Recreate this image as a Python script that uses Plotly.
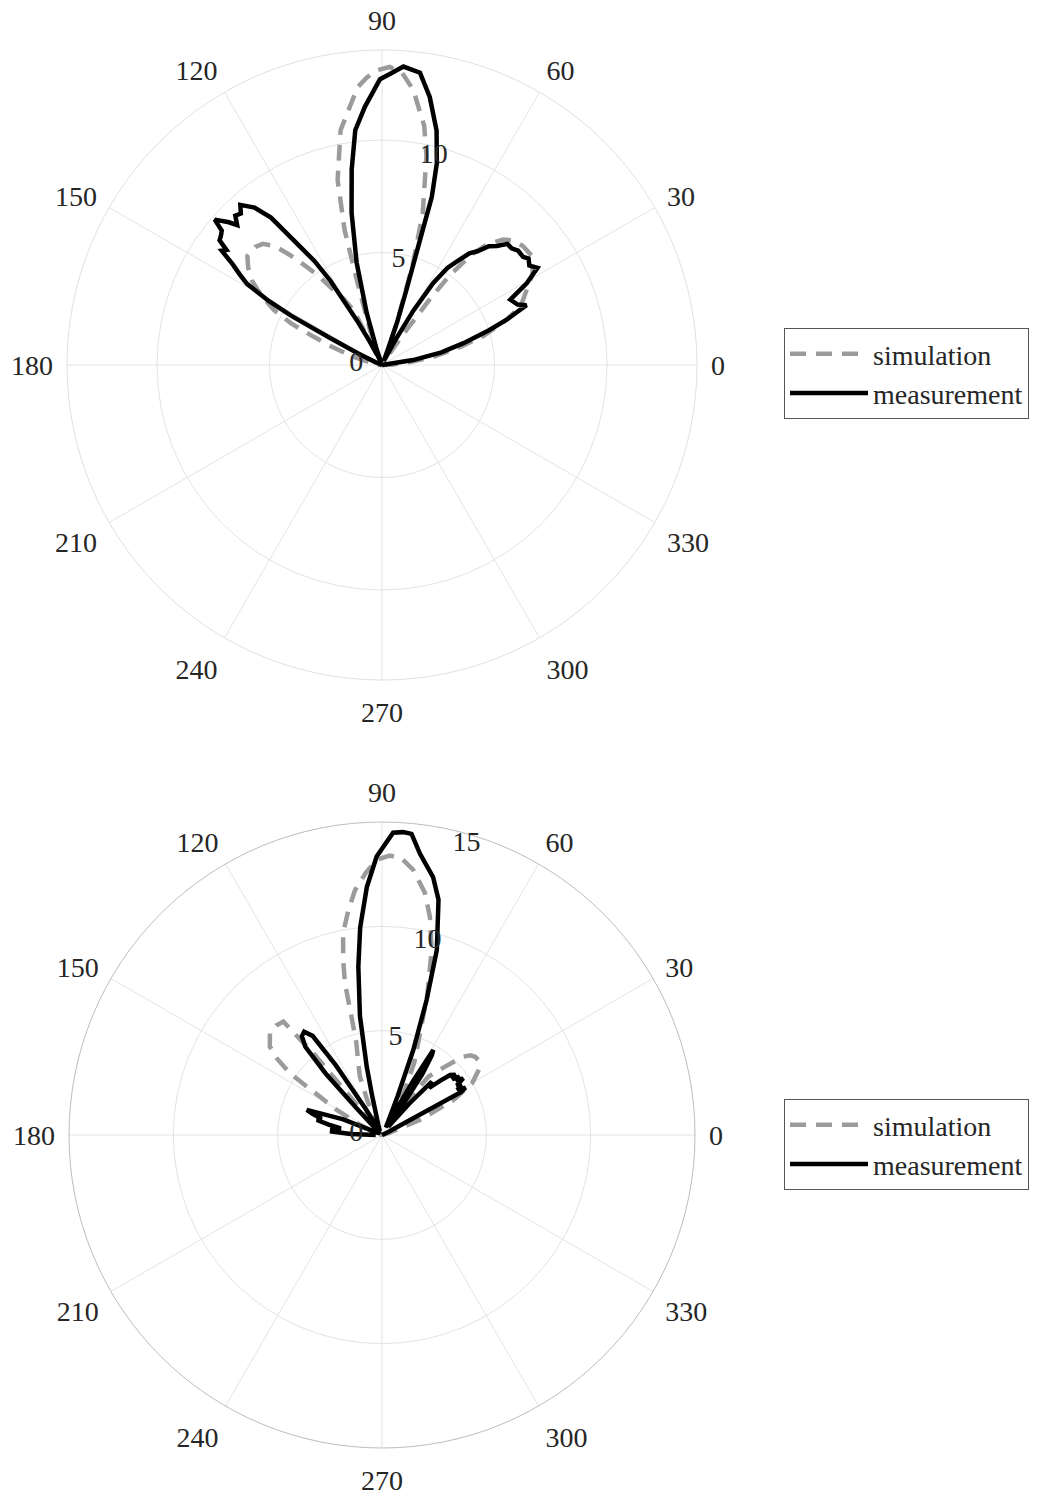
import plotly.graph_objects as go

# ---------------- data ----------------
angle_ticks = [0, 30, 60, 90, 120, 150, 180, 210, 240, 270, 300, 330]

top_sim_theta = [0, 3, 6, 9, 13, 16, 20, 23, 27.5, 31, 35.5, 40, 43.5, 46, 49, 51, 53, 54, 55, 57,
                 60, 65, 68, 70.5, 73, 75, 78, 80, 83.5, 86, 88.5, 91, 93, 95, 100, 103.5, 105.5, 106.5, 109, 111,
                 115, 117.5, 120, 123, 125, 127.5, 130, 132, 134.5, 137, 141, 144, 147, 150, 153, 155.5, 157.5, 160, 164, 168,
                 172, 180]
top_sim_r = [0, 0.5, 1.2, 2.3, 3.6, 4.7, 5.9, 6.7, 7.25, 7.8, 8.25, 8.2, 8.05, 7.75, 7.1, 6.3, 5.0, 3.6, 1.9, 0.5,
             0.1, 0.1, 0.4, 1.95, 4.7, 7.0, 9.5, 10.8, 12.3, 13.0, 13.25, 13.1, 12.8, 12.4, 10.6, 8.45, 6.2, 3.95, 1.65, 0.5,
             0.1, 2.75, 3.4, 4.0, 4.7, 5.5, 6.4, 7.1, 7.55, 7.7, 7.7, 7.35, 6.9, 6.2, 5.4, 4.4, 3.3, 2.4, 1.3, 0.5,
             0.1, 0]

top_meas_theta = [0, 5, 9, 12, 15, 18, 20, 22.5, 24, 27, 29.5, 32, 34, 36, 37.5, 40, 42, 44, 46, 48,
                  50, 52, 54, 56, 58, 60, 62, 64, 66, 68, 70.5, 72, 73, 73.5, 74.8, 76.9, 79.9, 82.6, 85.9, 88,
                  90.4, 93.8, 96.5, 98.8, 101.3, 103.9, 106.4, 108.5, 110, 112, 115, 117.5, 119.4, 121.5, 123, 125, 127, 129, 131.5, 133,
                  134.5, 136, 137, 139, 140, 141, 142.5, 143.5, 144.5, 146, 147.5, 149, 150.5, 151.5, 152.5, 154, 157, 160, 180]
top_meas_r = [0, 0, 1.4, 2.7, 3.75, 5.0, 5.9, 6.95, 6.6, 6.4, 7.4, 8.15, 7.9, 8.05, 7.9, 7.9, 7.75, 7.75, 7.35, 7.1,
              6.6, 6.3, 5.7, 5.2, 4.3, 2.8, 1.2, 0.3, 0.2, 0.4, 2.0, 3.5, 5.5, 7.8, 9.3, 10.7, 12.1, 13.1, 13.3, 13.0,
              12.7, 11.5, 10.5, 8.8, 6.9, 4.7, 2.4, 0.8, 0.2, 0.2, 0.5, 1.2, 2.3, 4.4, 5.5, 6.6, 8.2, 9.0, 9.5, 9.2,
              9.3, 8.95, 9.3, 9.85, 9.3, 9.2, 9.1, 8.6, 8.75, 8.0, 7.5, 7.0, 5.8, 4.6, 2.6, 1.2, 0.3, 0, 0]

bot_sim_theta = [0, 15, 18, 22, 26, 30, 34, 38, 40, 42, 44, 46, 48, 51.5, 54, 56, 58, 60, 63, 66,
                 69.5, 72, 75, 77.6, 80, 83.3, 86, 88.4, 91, 93.5, 96.3, 98.5, 100.9, 102.5, 103.7, 104.5, 105.5, 108, 110.7, 113,
                 116, 120, 125, 128, 130, 131, 134, 137.8, 141.7, 144, 146.2, 148.3, 151, 155, 160, 170, 180]
bot_sim_r = [0, 0.3, 0.5, 2.0, 3.8, 5.0, 5.6, 5.85, 5.83, 5.7, 5.4, 4.8, 4.3, 3.57, 2.0, 0.8, 0.4, 0.5, 2.4, 3.8,
             5.2, 7.0, 9.2, 10.7, 11.8, 12.8, 13.3, 13.4, 13.2, 12.6, 11.8, 10.9, 9.85, 8.6, 7.5, 5.8, 4.6, 3.7, 3.0, 1.8,
             0.6, 0.2, 0.2, 0.5, 5.0, 7.2, 7.3, 7.25, 6.85, 6.2, 5.3, 3.5, 2.5, 1.2, 0.4, 0.1, 0]

bot_meas_theta = [0, 20, 25, 27, 28.5, 29.5, 31, 32, 33.5, 34.9, 36, 37, 38.5, 39.4, 41.4, 43, 45, 47, 49, 51,
                  53, 55, 56.5, 58, 58.9, 60, 61, 63, 64, 66, 68, 69.8, 71.7, 73.5, 76.5, 78.8, 82.3, 84.4, 86, 87.9,
                  91.1, 93.5, 96, 98, 100.5, 102.6, 104, 106, 110, 114, 118, 120, 122, 123.5, 125, 127, 129, 131, 132.5, 133.5,
                  135, 140, 150, 155, 158, 161.5, 163, 165, 167, 169, 171, 174, 176, 178, 180]
bot_meas_r = [0, 0, 0.3, 0.5, 4.3, 4.6, 4.2, 4.5, 4.3, 4.75, 4.4, 4.65, 4.3, 4.55, 4.35, 3.8, 3.2, 3.5, 2.0, 0.8,
              0.5, 1.5, 3.5, 4.5, 4.76, 3.0, 1.0, 0.5, 0.5, 0.8, 2.0, 4.35, 6.8, 9.25, 11.6, 12.6, 13.6, 14.5, 14.55, 14.5,
              13.35, 11.9, 10.0, 8.15, 5.8, 3.35, 2.0, 1.0, 0.5, 0.3, 0.3, 0.3, 1.5, 4.0, 5.8, 6.2, 6.1, 5.6, 4.0, 1.8,
              0.4, 0.2, 0.2, 0.3, 2.0, 3.8, 3.5, 3.0, 3.2, 2.6, 2.0, 2.4, 2.4, 1.5, 0.3]

top_rticks = [0, 5, 10]
bot_rticks = [0, 5, 10, 15]
top_rmax = 14
bot_rmax = 15

# ---------------- figure ----------------
W, H = 1041, 1499
FONT = "Liberation Serif"
TXT = "#262626"
GRID = "#e3e3e3"
SIM_COLOR = "#9b9b9b"
R_ANGLE = 68

fig = go.Figure()

sim_line = dict(color=SIM_COLOR, width=4.5, dash="16px,10px")
meas_line = dict(color="black", width=4.5)

fig.add_trace(go.Scatterpolar(theta=top_sim_theta, r=top_sim_r, mode="lines", name="simulation",
                              line=sim_line, subplot="polar", legend="legend"))
fig.add_trace(go.Scatterpolar(theta=top_meas_theta, r=top_meas_r, mode="lines", name="measurement",
                              line=meas_line, subplot="polar", legend="legend"))
fig.add_trace(go.Scatterpolar(theta=bot_sim_theta, r=bot_sim_r, mode="lines", name="simulation",
                              line=sim_line, subplot="polar2", legend="legend2"))
fig.add_trace(go.Scatterpolar(theta=bot_meas_theta, r=bot_meas_r, mode="lines", name="measurement",
                              line=meas_line, subplot="polar2", legend="legend2"))


def polar_layout(xd, yd, rmax, rticks, outer):
    return dict(
        domain=dict(x=[xd[0] / W, xd[1] / W], y=[1 - yd[1] / H, 1 - yd[0] / H]),
        bgcolor="white",
        radialaxis=dict(range=[0, rmax], tickmode="array", tickvals=rticks,
                        ticktext=[str(v) for v in rticks], angle=R_ANGLE, tickangle=R_ANGLE,
                        side="counterclockwise",
                        showline=False, ticks="", gridcolor=GRID, gridwidth=1,
                        tickfont=dict(family=FONT, size=28, color=TXT)),
        angularaxis=dict(tickmode="array", tickvals=angle_ticks,
                         ticktext=[str(v) for v in angle_ticks],
                         rotation=0, direction="counterclockwise",
                         showline=True, linecolor=outer, linewidth=1,
                         gridcolor=GRID, gridwidth=1,
                         ticks="outside", ticklen=8, tickcolor="rgba(0,0,0,0)",
                         tickfont=dict(family=FONT, size=28, color=TXT)),
    )


legend_common = dict(font=dict(family=FONT, size=28, color=TXT), bgcolor="white",
                     bordercolor="#555555", borderwidth=1, xanchor="left", yanchor="top",
                     itemwidth=78, tracegroupgap=0)

fig.update_layout(
    width=W, height=H,
    margin=dict(l=0, r=0, t=0, b=0),
    paper_bgcolor="white",
    polar=polar_layout((67, 697), (50, 680), top_rmax, top_rticks, "#e0e0e0"),
    polar2=polar_layout((69, 695), (822, 1448), bot_rmax, bot_rticks, "#bdbdbd"),
    legend=dict(x=784 / W, y=1 - 328 / H, **legend_common),
    legend2=dict(x=784 / W, y=1 - 1099 / H, **legend_common),
    showlegend=True,
)

fig.write_html("out.html", config={"displayModeBar": False},
               post_script="document.body.style.margin='0';document.body.style.overflow='hidden';")
